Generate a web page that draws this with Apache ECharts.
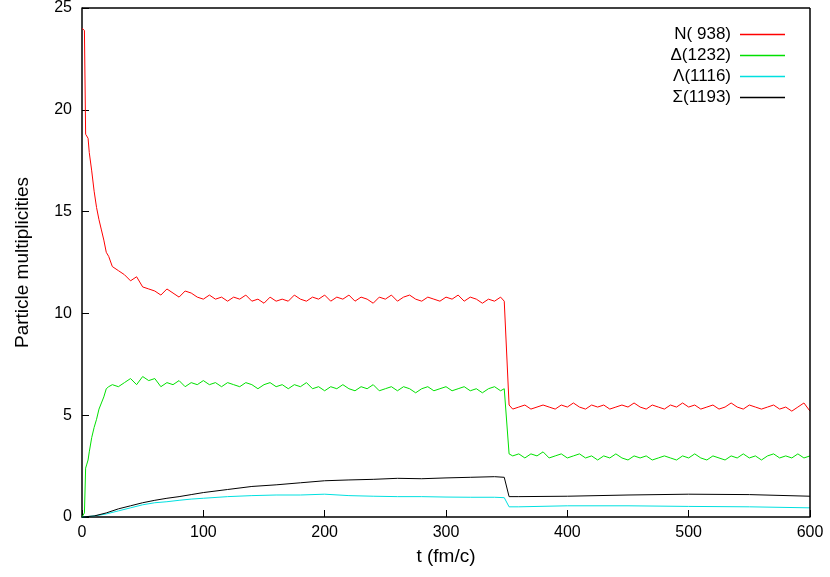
<!DOCTYPE html>
<html>
<head>
  <meta charset="utf-8">
  <script src="https://cdn.jsdelivr.net/npm/echarts@6/dist/echarts.min.js"></script>
</head>
<body style="margin:0">
  <div id="main" style="width:830px;height:577px;"></div>
  <script type="text/javascript">
    // shared time grid for N and Delta (fm/c)
    var tFine = [0, 1, 2, 3, 4, 5, 6, 8, 10, 12, 14, 16, 18, 20, 22, 25,
      30, 35, 40, 45, 50, 55, 60, 65, 70, 75, 80, 85, 90, 95, 100, 105,
      110, 115, 120, 125, 130, 135, 140, 145, 150, 155, 160, 165, 170, 175, 180, 185,
      190, 195, 200, 205, 210, 215, 220, 225, 230, 235, 240, 245, 250, 255, 260, 265,
      270, 275, 280, 285, 290, 295, 300, 305, 310, 315, 320, 325, 330, 335, 340, 345,
      348, 352,
      355, 360, 365, 370, 375, 380, 385, 390, 395, 400, 405, 410, 415, 420, 425, 430,
      435, 440, 445, 450, 455, 460, 465, 470, 475, 480, 485, 490, 495, 500, 505, 510,
      515, 520, 525, 530, 535, 540, 545, 550, 555, 560, 565, 570, 575, 580, 585, 590,
      595, 600];

    var nucleon = [24.0, 24.0, 23.9, 18.8, 18.8, 18.6, 17.9, 17.0, 16.0, 15.2, 14.6, 14.1, 13.6, 13.0, 12.8, 12.3,
      12.1, 11.9, 11.6, 11.8, 11.3, 11.2, 11.1, 10.9, 11.2, 11.0, 10.8, 11.1, 11.0, 10.8, 10.7, 10.9,
      10.7, 10.8, 10.6, 10.8, 10.7, 10.9, 10.6, 10.7, 10.5, 10.8, 10.6, 10.7, 10.6, 10.9, 10.7, 10.6,
      10.8, 10.7, 10.9, 10.6, 10.8, 10.7, 10.9, 10.6, 10.8, 10.7, 10.5, 10.8, 10.7, 10.9, 10.6, 10.8,
      10.9, 10.7, 10.6, 10.8, 10.7, 10.6, 10.8, 10.7, 10.9, 10.6, 10.8, 10.7, 10.5, 10.7, 10.6, 10.8,
      10.6, 5.5,
      5.3, 5.4, 5.5, 5.3, 5.4, 5.5, 5.4, 5.3, 5.5, 5.4, 5.6, 5.4, 5.3, 5.5, 5.4, 5.5,
      5.3, 5.4, 5.5, 5.4, 5.6, 5.4, 5.3, 5.5, 5.4, 5.3, 5.5, 5.4, 5.6, 5.4, 5.5, 5.3,
      5.4, 5.5, 5.3, 5.4, 5.6, 5.4, 5.3, 5.5, 5.4, 5.3, 5.4, 5.5, 5.3, 5.4, 5.2, 5.4,
      5.6, 5.2];

    var delta = [0, 0, 0.2, 2.4, 2.6, 2.8, 3.2, 3.9, 4.4, 4.8, 5.3, 5.6, 5.9, 6.3, 6.4, 6.5,
      6.4, 6.6, 6.8, 6.5, 6.9, 6.7, 6.8, 6.4, 6.6, 6.5, 6.7, 6.4, 6.6, 6.5, 6.7, 6.5,
      6.6, 6.4, 6.6, 6.5, 6.4, 6.6, 6.5, 6.3, 6.5, 6.6, 6.4, 6.5, 6.3, 6.5, 6.4, 6.6,
      6.3, 6.4, 6.2, 6.4, 6.3, 6.5, 6.3, 6.2, 6.4, 6.3, 6.5, 6.2, 6.3, 6.4, 6.2, 6.4,
      6.3, 6.1, 6.3, 6.4, 6.2, 6.3, 6.4, 6.2, 6.3, 6.4, 6.2, 6.3, 6.1, 6.3, 6.4, 6.2,
      6.3, 3.1,
      3.0, 3.1, 2.9, 3.1, 3.0, 3.2, 2.9, 3.0, 3.1, 2.9, 3.0, 3.1, 2.9, 3.0, 2.8, 3.0,
      2.9, 3.1, 2.9, 2.8, 3.0, 2.9, 3.0, 2.8, 2.9, 3.0, 2.9, 2.8, 3.0, 2.9, 3.1, 2.9,
      2.8, 3.0, 2.9, 2.8, 3.0, 2.9, 3.1, 2.9, 3.0, 2.8, 3.0, 3.1, 2.9, 3.0, 2.9, 3.1,
      2.9, 3.0];

    // coarser grid for the smooth hyperon curves
    var tCoarse = [0, 10, 20, 30, 40, 50, 60, 70, 80, 90, 100, 120, 140, 160, 180, 200,
      220, 240, 260, 280, 300, 320, 340, 348, 352, 360, 400, 450, 500, 550, 600];
    var lambda = [0, 0.05, 0.15, 0.3, 0.45, 0.6, 0.7, 0.75, 0.82, 0.88, 0.92, 1.0, 1.05, 1.08, 1.08, 1.12,
      1.05, 1.02, 1.0, 1.0, 0.98, 0.97, 0.97, 0.95, 0.5, 0.5, 0.55, 0.55, 0.52, 0.5, 0.45];
    var sigma = [0, 0.05, 0.2, 0.4, 0.55, 0.7, 0.82, 0.92, 1.0, 1.1, 1.2, 1.35, 1.5, 1.58, 1.68, 1.78,
      1.82, 1.85, 1.9, 1.88, 1.92, 1.95, 1.98, 1.95, 1.0, 1.0, 1.02, 1.08, 1.12, 1.1, 1.02];

    var names = ['N( 938)', '\u0394(1232)', '\u039b(1116)', '\u03a3(1193)'];
    var colors = ['#ff0000', '#00e000', '#00e0e0', '#000000'];

    function pairs(t, v) {
      return t.map(function (x, i) { return [x, v[i]]; });
    }

    var myChart = echarts.init(document.getElementById('main'));
    var font = 'Liberation Sans, Arial, sans-serif';
    var axisLine = { show: true, onZero: false, lineStyle: { color: '#000', width: 1.5 } };
    var tickIn = { show: true, inside: true, length: 7, lineStyle: { color: '#000' } };

    var option = {
      animation: false,
      color: colors,
      grid: { left: 82, right: 20, top: 8, bottom: 60 },
      legend: {
        orient: 'vertical', right: 40, top: 21, align: 'right',
        icon: 'rect', itemWidth: 45, itemHeight: 1.5, itemGap: 4,
        textStyle: { fontFamily: font, fontSize: 17, color: '#000', padding: [0, 4, 0, 0] },
        data: names
      },
      xAxis: {
        type: 'value', min: 0, max: 600, interval: 100,
        name: 't (fm/c)', nameLocation: 'middle', nameGap: 30,
        nameTextStyle: { fontFamily: font, fontSize: 19, color: '#000' },
        axisLine: axisLine, axisTick: tickIn, splitLine: { show: false },
        axisLabel: { fontFamily: font, fontSize: 16, color: '#000', margin: 8 }
      },
      yAxis: {
        type: 'value', min: 0, max: 25, interval: 5,
        name: 'Particle multiplicities', nameLocation: 'middle', nameGap: 50,
        nameTextStyle: { fontFamily: font, fontSize: 19, color: '#000' },
        axisLine: axisLine, axisTick: tickIn, splitLine: { show: false },
        axisLabel: { fontFamily: font, fontSize: 16, color: '#000', margin: 10 }
      },
      series: [
        { name: names[0], type: 'line', symbol: 'none', data: pairs(tFine, nucleon), lineStyle: { width: 1 } },
        { name: names[1], type: 'line', symbol: 'none', data: pairs(tFine, delta), lineStyle: { width: 1 } },
        { name: names[2], type: 'line', symbol: 'none', data: pairs(tCoarse, lambda), lineStyle: { width: 1 } },
        {
          name: names[3], type: 'line', symbol: 'none', data: pairs(tCoarse, sigma), lineStyle: { width: 1 },
          // top and right edges of the plot frame
          markLine: {
            silent: true, symbol: 'none', label: { show: false },
            lineStyle: { color: '#000', width: 1.5, type: 'solid' },
            data: [{ xAxis: 600 }, { yAxis: 25 }]
          }
        }
      ]
    };

    myChart.setOption(option);
  </script>
</body>
</html>
